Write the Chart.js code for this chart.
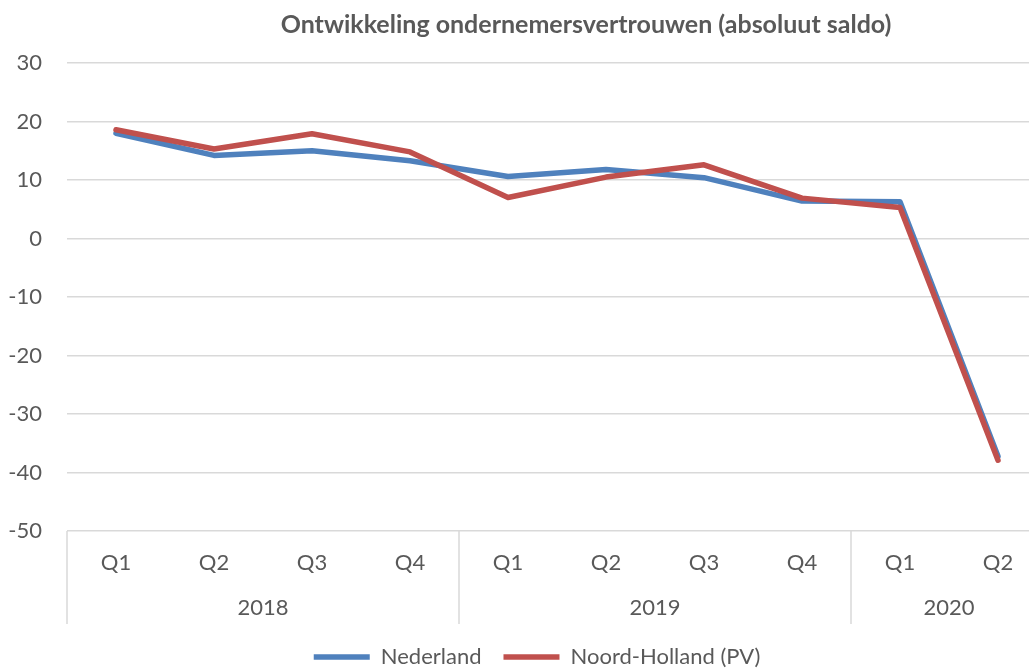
<!DOCTYPE html>
<html>
<head>
<meta charset="utf-8">
<script src="https://cdn.jsdelivr.net/npm/chart.js@4"></script>
<style>
    html, body { margin: 0; padding: 0; background: #fff; overflow: hidden; }
    #wrap { width: 1029px; height: 669px; overflow: hidden; position: relative; }
</style>
</head>
<body>
<div id="wrap"><canvas id="chart" width="1075" height="700"></canvas></div>
<script>
const quarters = ["Q1", "Q2", "Q3", "Q4", "Q1", "Q2", "Q3", "Q4", "Q1", "Q2"];
const years = ["2018", "2019", "2020"];
const quartersPerYear = [4, 4, 2];
const nederland = [18.0, 14.2, 15.0, 13.3, 10.6, 11.8, 10.4, 6.4, 6.3, -37.2];
const noordHolland = [18.6, 15.3, 17.9, 14.8, 7.0, 10.5, 12.6, 6.9, 5.3, -37.9];

const titleText = "Ontwikkeling ondernemersvertrouwen (absoluut saldo)";
const textColor = "#595959";
const gridColor = "#d9d9d9";
const fontFamily = "Lato, 'Open Sans', sans-serif";

// title drawn by hand so it can sit off-centre like the original
const titlePlugin = {
    id: "titleText",
    afterDraw(chart) {
        const ctx = chart.ctx;
        ctx.save();
        ctx.font = "bold 25px " + fontFamily;
        ctx.fillStyle = textColor;
        ctx.textAlign = "center";
        ctx.textBaseline = "middle";
        ctx.fillText(titleText, 586, 25);
        ctx.restore();
    }
};

// year row + separators under the quarter labels
const yearAxisPlugin = {
    id: "yearAxis",
    afterDraw(chart) {
        const ctx = chart.ctx;
        const x = chart.scales.x;
        const area = chart.chartArea;
        const top = area.bottom;
        const bottom = area.bottom + 93;
        const step = x.getPixelForValue(1) - x.getPixelForValue(0);

        ctx.save();
        ctx.strokeStyle = gridColor;
        ctx.lineWidth = 1.5;
        ctx.font = "22px " + fontFamily;
        ctx.fillStyle = textColor;
        ctx.textAlign = "center";
        ctx.textBaseline = "middle";

        let start = 0;
        years.forEach((year, i) => {
            const count = quartersPerYear[i];
            const left = x.getPixelForValue(start) - step / 2;
            ctx.beginPath();
            ctx.moveTo(left, top);
            ctx.lineTo(left, bottom);
            ctx.stroke();

            const center = (x.getPixelForValue(start) + x.getPixelForValue(start + count - 1)) / 2;
            ctx.fillText(year, center, area.bottom + 77);
            start += count;
        });
        ctx.restore();
    }
};

new Chart(document.getElementById("chart"), {
    type: "line",
    data: {
        labels: quarters,
        datasets: [
            {
                label: "Nederland",
                data: nederland,
                borderColor: "#4f81bd",
                backgroundColor: "#4f81bd",
                borderWidth: 5.5,
                borderCapStyle: "round",
                borderJoinStyle: "round",
                pointRadius: 0,
                tension: 0,
                order: 1
            },
            {
                label: "Noord-Holland (PV)",
                data: noordHolland,
                borderColor: "#c0504d",
                backgroundColor: "#c0504d",
                borderWidth: 5.5,
                borderCapStyle: "round",
                borderJoinStyle: "round",
                pointRadius: 0,
                tension: 0,
                order: 0
            }
        ]
    },
    options: {
        responsive: false,
        animation: false,
        layout: { padding: { top: 63, left: 0, right: 1, bottom: 22 } },
        scales: {
            x: {
                offset: true,
                grid: { display: false, drawTicks: false },
                border: { display: false },
                ticks: {
                    color: textColor,
                    font: { family: fontFamily, size: 22 },
                    padding: 19,
                    maxRotation: 0,
                    autoSkip: false
                },
                afterFit(scale) { scale.height = 93; }
            },
            y: {
                min: -50,
                max: 30,
                grid: { color: gridColor, lineWidth: 1.5, drawTicks: false },
                border: { display: false },
                ticks: {
                    stepSize: 10,
                    color: textColor,
                    font: { family: fontFamily, size: 22 },
                    padding: 25
                },
                afterFit(scale) { scale.width = 67; }
            },
            // empty right-hand axis, only to push the plot edge in
            spacer: {
                position: "right",
                min: -50,
                max: 30,
                grid: { display: false, drawTicks: false },
                border: { display: false },
                ticks: { display: false },
                afterFit(scale) { scale.width = 27; }
            }
        },
        plugins: {
            title: { display: false },
            tooltip: { enabled: false },
            legend: {
                position: "bottom",
                labels: {
                    color: textColor,
                    font: { family: fontFamily, size: 22 },
                    usePointStyle: true,
                    pointStyle: "line",
                    pointStyleWidth: 56,
                    padding: 22,
                    sort: (a, b) => a.datasetIndex - b.datasetIndex
                }
            }
        }
    },
    plugins: [titlePlugin, yearAxisPlugin]
});
</script>
</body>
</html>
